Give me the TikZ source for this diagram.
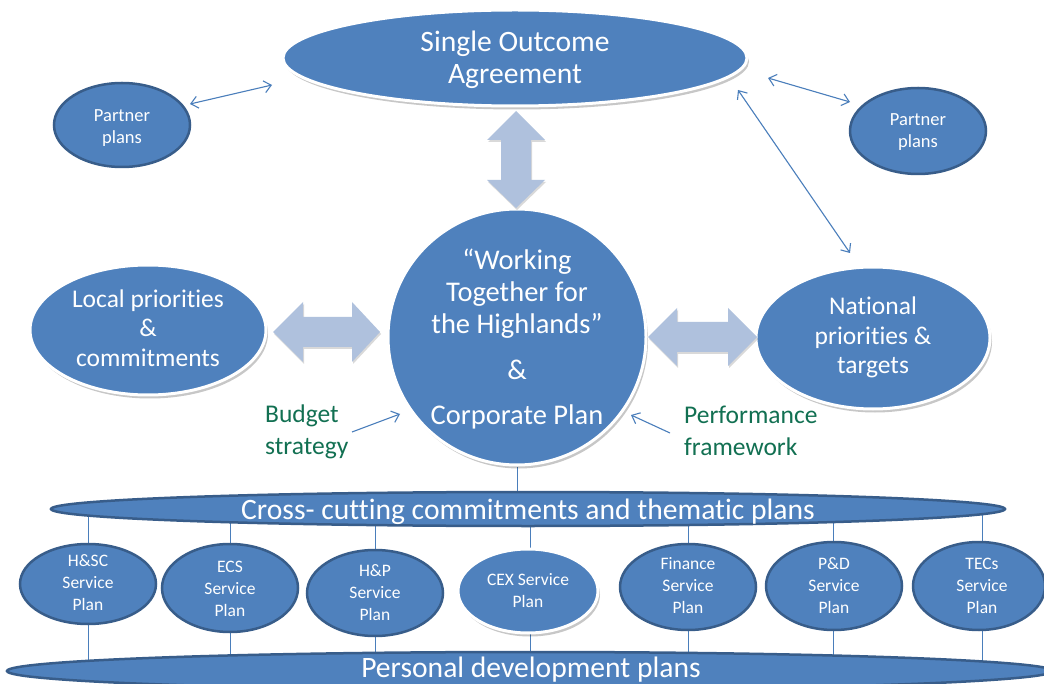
\documentclass[tikz,border=0pt]{standalone}
\usepackage{fontspec}
\setmainfont{Carlito}[Ligatures={NoCommon,NoRequired,NoContextual},Contextuals=NoAlternate]
\usetikzlibrary{shapes.geometric,arrows.meta,shadows,backgrounds}

% keeps "t" and "i" as separate glyphs
\newcommand{\tbreak}{t\kern0pt }

\definecolor{blobfill}{HTML}{4F81BD}
\definecolor{blobline}{HTML}{385D8A}
\definecolor{bigarrow}{RGB}{175,193,221}
\definecolor{thinline}{HTML}{4A7EBB}
\definecolor{notegreen}{RGB}{18,112,82}

\tikzset{
  blob/.style={ellipse, fill=blobfill, inner sep=0pt},
  rimmed/.style={blob, draw=white, line width=3pt,
    drop shadow={shadow xshift=2pt, shadow yshift=-3.5pt, opacity=0.22, fill=black}},
  edged/.style={blob, draw=blobline, line width=2.5pt},
  big/.style={text=white, align=center, font=\fontsize{28.5}{32}\selectfont, inner sep=0pt},
  band/.style={text=white, align=center, font=\fontsize{29.6}{32}\selectfont, inner sep=0pt},
  mid/.style={text=white, align=center, font=\fontsize{25.5}{29.5}\selectfont, inner sep=0pt},
  small/.style={text=white, align=center, font=\fontsize{17.5}{22}\selectfont, inner sep=0pt},
  partner/.style={text=white, align=center, font=\fontsize{18.5}{22}\selectfont, inner sep=0pt},
  note/.style={text=notegreen, align=left, font=\fontsize{25.5}{32}\selectfont, inner sep=0pt, anchor=west},
  fatarrow/.style={fill=bigarrow,
    drop shadow={shadow xshift=1pt, shadow yshift=-2pt, opacity=0.15, fill=black}},
  link/.style={draw=thinline, line width=1.1pt,
    {Straight Barb[length=7pt,width=12pt]}-{Straight Barb[length=7pt,width=12pt]}},
  feed/.style={draw=thinline, line width=1.1pt, -{Straight Barb[length=7pt,width=12pt]}},
  tie/.style={draw=thinline, line width=1pt},
}

\begin{document}
\begin{tikzpicture}[x=1pt, y=-1pt]
\useasboundingbox (0,0) rectangle (1044,684);
\begin{pgfonlayer}{background}
  \fill[white] (0,0) rectangle (1044,684);
\end{pgfonlayer}

% top agreement and partner plans
\node[rimmed, minimum width=464pt, minimum height=96pt] (soa) at (515,58) {};
\node[band] (soa-t) at (515,59.5) {Single Outcome\\Agreement};

\node[edged, minimum width=136pt, minimum height=84pt] (pl) at (122,125) {};
\node[partner] (pl-t) at (122,128) {Partner\\plans};
\node[edged, minimum width=136pt, minimum height=86pt] (pr) at (918,131) {};
\node[partner] (pr-t) at (918,132) {Partner\\plans};

% central plan
\node[rimmed, minimum width=258pt, minimum height=256pt] (wt) at (517,337) {};
\node[big] (wt-t) at (517,339) {“Working\\Together for\\the Highlands”\\[14pt]\&\\[13pt]Corporate Plan};

% side priorities
\node[rimmed, minimum width=236pt, minimum height=130pt] (lp) at (148,330) {};
\node[mid] (lp-t) at (148,328) {Local priori\tbreak ies\\\&\\commitments};
\node[rimmed, minimum width=234pt, minimum height=142pt] (np) at (873,338) {};
\node[mid] (np-t) at (873,337.5) {National\\priori\tbreak ies \&\\targets};

% side notes
\node[note] (bs) at (265,432) {Budget\\strategy};
\node[note] (pf) at (684,430.5) {Performance\\framework};

% bands
\node[edged, minimum width=954pt, minimum height=34pt] (cc) at (528,509) {};
\node[band] (cc-t) at (528,512) {Cross- cut\tbreak ing commitments and thema\tbreak ic plans};
\node[edged, minimum width=1046pt, minimum height=38pt] (pd) at (530,671) {};
\node[band] (pd-t) at (531,669.5) {Personal development plans};

% service plans
\node[edged, minimum width=136pt, minimum height=80pt] (s1) at (88,584) {};
\node[small] (s1-t) at (88,583) {H\&SC\\Service\\Plan};
\node[edged, minimum width=136pt, minimum height=88pt] (s2) at (230,588) {};
\node[small] (s2-t) at (230,589) {ECS\\Service\\Plan};
\node[edged, minimum width=136pt, minimum height=86pt] (s3) at (375,593) {};
\node[small] (s3-t) at (375,593) {H\&P\\Service\\Plan};
\node[rimmed, minimum width=140pt, minimum height=84pt] (s4) at (528,591) {};
\node[small] (s4-t) at (528,591) {CEX Service\\Plan};
\node[edged, minimum width=136pt, minimum height=86pt] (s5) at (688,587) {};
\node[small] (s5-t) at (688,586) {Finance\\Service\\Plan};
\node[edged, minimum width=136pt, minimum height=88pt] (s6) at (834,586) {};
\node[small] (s6-t) at (834,586) {P\&D\\Service\\Plan};
\node[edged, minimum width=132pt, minimum height=88pt] (s7) at (979,586) {};
\node[small] (s7-t) at (982,586) {TECs\\Service\\Plan};

% thin ties behind the bands and plans
\begin{pgfonlayer}{background}
  \draw[tie] (wt) -- (wt |- cc);
  \draw[tie] (88,509) -- (88,671);
  \draw[tie] (230,509) -- (230,671);
  \draw[tie] (375,509) -- (375,671);
  \draw[tie] (530,509) -- (530,671);
  \draw[tie] (688,509) -- (688,671);
  \draw[tie] (833,509) -- (833,671);
  \draw[tie] (982,509) -- (982,671);
\end{pgfonlayer}

% broad two-way arrows
\path[fatarrow] (516,111) -- (545,140) -- (531,140) -- (531,180) -- (545,180) -- (516,208)
  -- (487,180) -- (501,180) -- (501,140) -- (487,140) -- cycle;
\path[fatarrow] (273,332) -- (303,302) -- (303,317) -- (352,317) -- (352,302) -- (380,332)
  -- (352,362) -- (352,347) -- (303,347) -- (303,362) -- cycle;
\path[fatarrow] (648,337) -- (677,308) -- (677,322) -- (728,322) -- (728,308) -- (757,337)
  -- (728,366) -- (728,352) -- (677,352) -- (677,366) -- cycle;

% thin arrows
\coordinate (a1) at (190,104);
\coordinate (a2) at (272,85);
\coordinate (b1) at (768,78);
\coordinate (b2) at (850,102);
\coordinate (c1) at (738,90);
\coordinate (c2) at (850,253);
\coordinate (d1) at (352,432);
\coordinate (d2) at (400,414);
\coordinate (e1) at (670,433);
\coordinate (e2) at (631,415);
\draw[link] (a1) -- (a2);
\draw[link] (b1) -- (b2);
\draw[link] (c1) -- (c2);
\draw[feed] (d1) -- (d2);
\draw[feed] (e1) -- (e2);
\end{tikzpicture}
\end{document}
